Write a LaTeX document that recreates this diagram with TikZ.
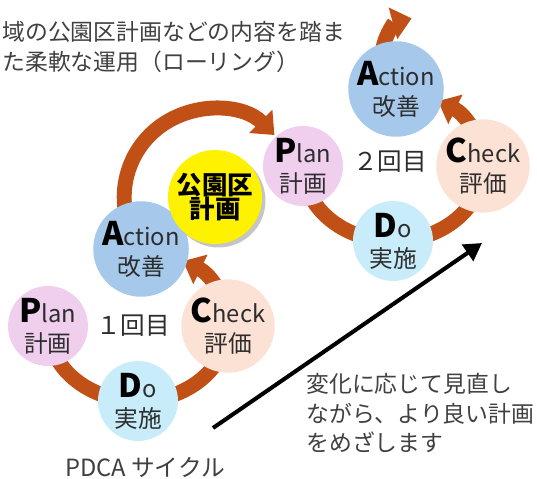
\documentclass[tikz,border=0pt]{standalone}
\usepackage{fontspec}
\setmainfont{Noto Sans CJK JP}
\usetikzlibrary{arrows.meta,backgrounds,shadows}
\definecolor{plancol}{RGB}{240,206,238}
\definecolor{docol}{RGB}{200,236,250}
\definecolor{checkcol}{RGB}{251,226,213}
\definecolor{actcol}{RGB}{165,200,235}
\definecolor{arccol}{RGB}{192,80,22}
\definecolor{txtcol}{RGB}{45,45,45}
\newcommand{\initial}[1]{{\fontsize{18.5}{18}\selectfont\bfseries\color{black}#1}}
\begin{document}
\begin{tikzpicture}[x=0.02cm,y=0.02cm,phase node/.style={circle, minimum size=1.6cm, inner sep=0pt, align=center, font=\fontsize{13.5}{17}\selectfont, text=txtcol},plan node/.style={phase node, fill=plancol},do node/.style={phase node, fill=docol},check node/.style={phase node, fill=checkcol},action node/.style={phase node, fill=actcol},core node/.style={circle, fill=yellow, minimum size=1.88cm, inner sep=0pt, align=center, font=\bfseries\fontsize{14.5}{14}\selectfont, drop shadow={shadow xshift=2pt, shadow yshift=-2pt, fill=black!45, opacity=0.5}},round label/.style={font=\fontsize{14}{15}\selectfont, text=txtcol},note text/.style={font=\fontsize{13}{16.8}\selectfont, text=black!75, align=left, inner sep=0pt},cycle arc/.style={line width=8.5pt, arccol},cycle arrow/.style={cycle arc, -{Triangle[width=18pt,length=11pt]}},trend arrow/.style={line width=2.3pt, black, -{Triangle[width=11pt,length=10pt]}}]%
\useasboundingbox (0,0) rectangle (537,479);%
\node[note text, anchor=west] (lead) at (2,432) {域の公園区計画などの内容を踏ま\\た柔軟な運用（ローリング）};%
  % Cycle 1%
\node[plan node] (plan1) at (48,153) {\initial{P}lan\\計画};%
\node[do node] (do1) at (138,78) {\initial{D}o\\実施};%
\node[check node] (check1) at (228,153) {\initial{C}heck\\評価};%
\node[action node] (action1) at (141,230) {\initial{A}ction\\改善};%
\node[round label] (round1) at (133,153) {１回目};%
  % Core plan%
\node[core node] (core) at (215,282) {公園区\\計画};%
  % Cycle 2%
\node[plan node] (plan2) at (303,313) {\initial{P}lan\\計画};%
\node[do node] (do2) at (393,238) {\initial{D}o\\実施};%
\node[check node] (check2) at (483,313) {\initial{C}heck\\評価};%
\node[action node] (action2) at (396,390) {\initial{A}ction\\改善};%
\node[round label] (round2) at (390,317) {２回目};%
  % Notes%
\node[note text, anchor=west] (aim) at (306,66) {変化に応じて見直し\\ながら、より良い計画\\をめざします};%
\node[font=\fontsize{13.5}{14}\selectfont, text=black!75] (caption) at (145,12) {PDCA サイクル};%
\coordinate (trend start) at (213,51);%
\coordinate (trend end) at (482,236);%
\draw[trend arrow] (trend start) -- (trend end);%
\begin{scope}[on background layer]%
\draw[cycle arc] (plan1.center) arc[start angle=180, end angle=270, x radius=90, y radius=75];%
\draw[cycle arc] (do1.center) arc[start angle=270, end angle=360, x radius=90, y radius=75];%
\draw[cycle arrow] (check1.center) arc[start angle=0, end angle=60, x radius=90, y radius=75];%
\draw[cycle arrow] (action1.center) arc[start angle=216, end angle=45, radius=88];%
\draw[cycle arc] (plan2.center) arc[start angle=180, end angle=270, x radius=90, y radius=75];%
\draw[cycle arc] (do2.center) arc[start angle=270, end angle=360, x radius=90, y radius=75];%
\draw[cycle arrow] (check2.center) arc[start angle=0, end angle=60, x radius=90, y radius=75];%
\draw[cycle arrow] (action2.center) ++(-14,32) arc[start angle=180, end angle=105, radius=40];%
\end{scope}%
\end{tikzpicture}
\end{document}
